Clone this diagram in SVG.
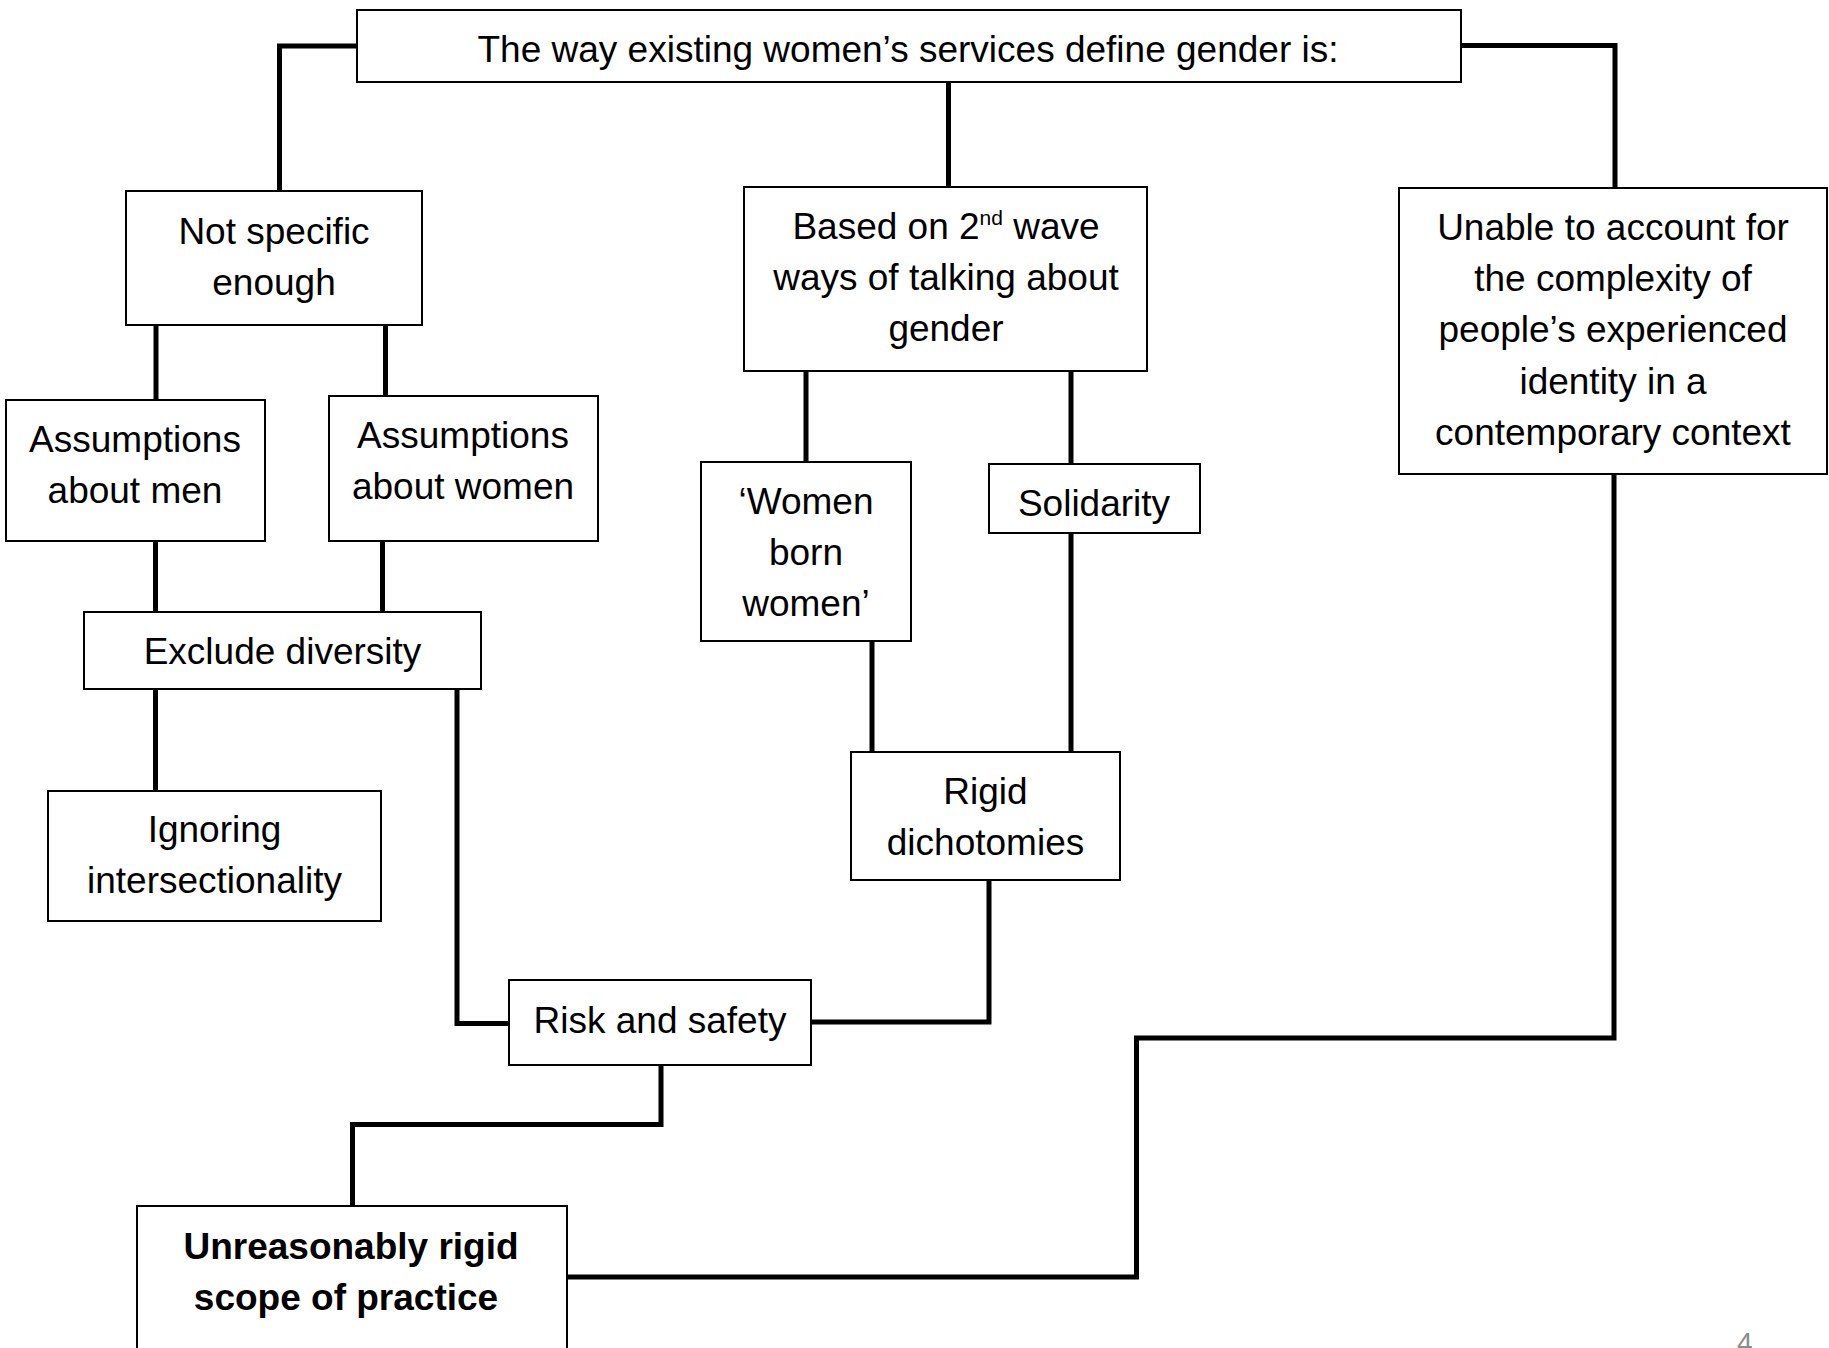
<svg xmlns="http://www.w3.org/2000/svg" width="1829" height="1348" viewBox="0 0 1829 1348">
<style>
.box{fill:#fff;stroke:#000;stroke-width:2}
.t{font-family:"Liberation Sans",Arial,sans-serif;font-size:37px;fill:#000;text-anchor:middle}
.b{font-weight:bold}
.c{fill:none;stroke:#000;stroke-width:5;stroke-linejoin:miter;stroke-linecap:square}
.pg{font-family:"Liberation Sans",Arial,sans-serif;font-size:28px;fill:#8c8c8c}
</style>
<rect width="1829" height="1348" fill="#fff"/>
<g id="connectors">
<path class="c" d="M357,46 H279.5 V191"/>
<path class="c" d="M948.5,82 V187"/>
<path class="c" d="M1461,45.5 H1615 V188"/>
<path class="c" d="M156,325 V400"/>
<path class="c" d="M385.5,325 V396"/>
<path class="c" d="M806,373 V462"/>
<path class="c" d="M1071,373 V463"/>
<path class="c" d="M155.5,541 V612"/>
<path class="c" d="M382.5,541 V612"/>
<path class="c" d="M155.5,689 V790"/>
<path class="c" d="M457,689 V1023.5 H509"/>
<path class="c" d="M872,643 V751"/>
<path class="c" d="M1071,533 V751"/>
<path class="c" d="M989,880 V1022 H811"/>
<path class="c" d="M661,1065 V1124.5 H352.5 V1206"/>
<path class="c" d="M1614,474 V1038 H1136.5 V1277 H567"/>
</g>
<g id="n-top">
<rect class="box" x="357" y="10" width="1104" height="72"/>
<text class="t" x="908" y="62">The way existing women’s services define gender is:</text>
</g>
<g id="n-notspecific">
<rect class="box" x="126" y="191" width="296" height="134"/>
<text class="t" x="274" y="244">Not specific</text>
<text class="t" x="274" y="295">enough</text>
</g>
<g id="n-based">
<rect class="box" x="744" y="187" width="403" height="184"/>
<text class="t" x="946" y="239">Based on 2<tspan font-size="21" dy="-14">nd</tspan><tspan dy="14"> wave</tspan></text>
<text class="t" x="946" y="290">ways of talking about</text>
<text class="t" x="946" y="341">gender</text>
</g>
<g id="n-unable">
<rect class="box" x="1399" y="188" width="428" height="286"/>
<text class="t" x="1613" y="240">Unable to account for</text>
<text class="t" x="1613" y="291">the complexity of</text>
<text class="t" x="1613" y="342">people’s experienced</text>
<text class="t" x="1613" y="393.5">identity in a</text>
<text class="t" x="1613" y="445">contemporary context</text>
</g>
<g id="n-amen">
<rect class="box" x="6" y="400" width="259" height="141"/>
<text class="t" x="135" y="452">Assumptions</text>
<text class="t" x="135" y="503">about men</text>
</g>
<g id="n-awomen">
<rect class="box" x="329" y="396" width="269" height="145"/>
<text class="t" x="463" y="448">Assumptions</text>
<text class="t" x="463" y="499">about women</text>
</g>
<g id="n-wbw">
<rect class="box" x="701" y="462" width="210" height="179"/>
<text class="t" x="806" y="514">‘Women</text>
<text class="t" x="806" y="565">born</text>
<text class="t" x="806" y="616">women’</text>
</g>
<g id="n-solidarity">
<rect class="box" x="989" y="464" width="211" height="69"/>
<text class="t" x="1094" y="516">Solidarity</text>
</g>
<g id="n-exclude">
<rect class="box" x="84" y="612" width="397" height="77"/>
<text class="t" x="282.5" y="664">Exclude diversity</text>
</g>
<g id="n-ignoring">
<rect class="box" x="48" y="791" width="333" height="130"/>
<text class="t" x="214.5" y="842">Ignoring</text>
<text class="t" x="214.5" y="893">intersectionality</text>
</g>
<g id="n-rigid">
<rect class="box" x="851" y="752" width="269" height="128"/>
<text class="t" x="985.5" y="804">Rigid</text>
<text class="t" x="985.5" y="855">dichotomies</text>
</g>
<g id="n-risk">
<rect class="box" x="509" y="980" width="302" height="85"/>
<text class="t" x="660" y="1033">Risk and safety</text>
</g>
<g id="n-unreasonably">
<rect class="box" x="137" y="1206" width="430" height="170"/>
<text class="t b" x="351" y="1259">Unreasonably rigid</text>
<text class="t b" x="346" y="1310">scope of practice</text>
</g>
<text class="pg" x="1737" y="1352">4</text>
</svg>
